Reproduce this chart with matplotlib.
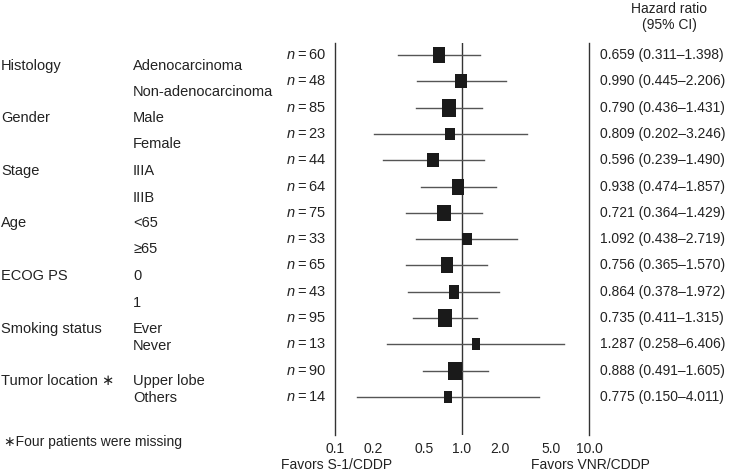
import matplotlib
matplotlib.use("Agg")
import matplotlib.pyplot as plt
import matplotlib.transforms as mtransforms
from matplotlib.path import Path

plt.rcParams['font.family'] = ['Liberation Sans', 'DejaVu Sans']
plt.rcParams['mathtext.fontset'] = 'custom'
plt.rcParams['mathtext.rm'] = 'Liberation Sans'
plt.rcParams['mathtext.it'] = 'Liberation Sans:italic'

# subgroup data
groups = ['Histology', 'Gender', 'Stage', 'Age', 'ECOG PS', 'Smoking status', 'Tumor location \u2217']
subgroups = ['Adenocarcinoma', 'Non-adenocarcinoma', 'Male', 'Female', 'IIIA', 'IIIB',
             '<65', '\u226565', '0', '1', 'Ever', 'Never', 'Upper lobe', 'Others']
n_pat = [60, 48, 85, 23, 44, 64, 75, 33, 65, 43, 95, 13, 90, 14]
hr = [0.659, 0.990, 0.790, 0.809, 0.596, 0.938, 0.721, 1.092, 0.756, 0.864, 0.735, 1.287, 0.888, 0.775]
ci_lo = [0.311, 0.445, 0.436, 0.202, 0.239, 0.474, 0.364, 0.438, 0.365, 0.378, 0.411, 0.258, 0.491, 0.150]
ci_hi = [1.398, 2.206, 1.431, 3.246, 1.490, 1.857, 1.429, 2.719, 1.570, 1.972, 1.315, 6.406, 1.605, 4.011]
xticks = [0.1, 0.2, 0.5, 1.0, 2.0, 5.0, 10.0]
xtick_labels = ['0.1', '0.2', '0.5', '1.0', '2.0', '5.0', '10.0']

# label layout (in row units)
group_y = [0.42, 2.4, 4.4, 6.38, 8.4, 10.42, 12.4]
sub_y = [0.42, 1.42, 2.4, 3.4, 4.4, 5.42, 6.38, 7.38, 8.4, 9.43, 10.42, 11.07, 12.4, 13.05]

W, H = 731, 476
fig = plt.figure(figsize=(W / 100, H / 100), dpi=100)
ax = fig.add_axes([335 / W, 41 / H, (589 - 335) / W, (435 - 43) / H])
ax.set_xscale('log')
ax.set_xlim(0.1, 10)
ax.set_ylim(14.45, -0.458)
for s in ['top', 'bottom']:
    ax.spines[s].set_visible(False)
for s in ['left', 'right']:
    ax.spines[s].set_linewidth(1)
    ax.spines[s].set_color('#333333')
ax.set_yticks([])
ax.set_xticks(xticks)
ax.set_xticklabels(xtick_labels, fontsize=10, color='#222222')
ax.minorticks_off()
ax.tick_params(axis='x', length=0, pad=5)

ax.axvline(1.0, color='#333333', lw=1)

box = Path([(-0.395, -0.5), (0.395, -0.5), (0.395, 0.5), (-0.395, 0.5), (-0.395, -0.5)],
           [Path.MOVETO, Path.LINETO, Path.LINETO, Path.LINETO, Path.CLOSEPOLY])

for i in range(len(hr)):
    ax.plot([ci_lo[i], ci_hi[i]], [i, i], color='#555555', lw=1)
    h_px = 1.27 * (7.8 + 0.073 * n_pat[i])
    ax.plot(hr[i], i, marker=box, ms=h_px * 0.72, mew=0, color='#1a1a1a')

tr = mtransforms.blended_transform_factory(fig.transFigure, ax.transData)
txt = dict(fontsize=10.5, color='#222222', va='center', transform=tr, clip_on=False)

for i in range(len(hr)):
    ax.text(326 / W, i, '$n$\u2009=\u2009%d' % n_pat[i], ha='right', **txt)
    ax.text(600 / W, i, '%.3f (%.3f\u2013%.3f)' % (hr[i], ci_lo[i], ci_hi[i]), ha='left',
            fontsize=10, color='#222222', va='center', transform=tr, clip_on=False)

for g, y in zip(groups, group_y):
    ax.text(1 / W, y, g, ha='left', **txt)
for s, y in zip(subgroups, sub_y):
    ax.text(133 / W, y, s, ha='left', **txt)

fig.text(4 / W, 1 - 442 / H, '\u2217Four patients were missing', fontsize=10, color='#222222',
         va='center', ha='left')
fig.text(669 / W, 1 - 9 / H, 'Hazard ratio', fontsize=10, color='#222222', va='center', ha='center')
fig.text(669 / W, 1 - 25 / H, '(95% CI)', fontsize=10, color='#222222', va='center', ha='center')
fig.text(337 / W, 1 - 465 / H, 'Favors S-1/CDDP', fontsize=10, color='#222222', va='center', ha='center')
fig.text(590 / W, 1 - 465 / H, 'Favors VNR/CDDP', fontsize=10, color='#222222', va='center', ha='center')

fig.savefig('out.png', dpi=100)
